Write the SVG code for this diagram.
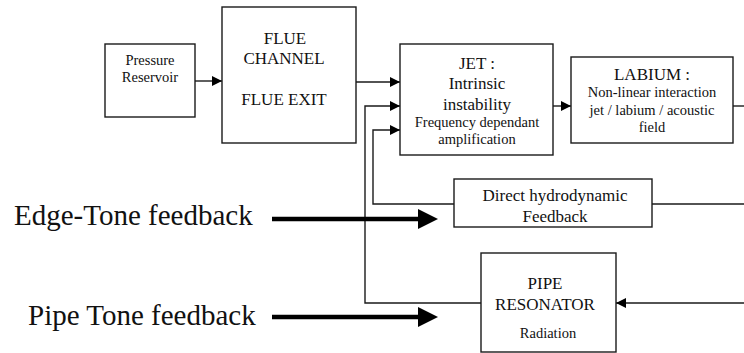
<svg xmlns="http://www.w3.org/2000/svg" width="744" height="353" viewBox="0 0 744 353">
  <style>
    .box { fill: #ffffff; stroke: #1a1a1a; stroke-width: 1.4; }
    .wire { fill: none; stroke: #1a1a1a; stroke-width: 1.4; }
    .big { stroke: #000; stroke-width: 4.5; fill: none; }
    text { font-family: "Liberation Serif", "Times New Roman", serif; fill: #111; text-anchor: middle; }
    .t17 { font-size: 17px; }
    .t14 { font-size: 14.5px; }
    .lbl { font-size: 29px; text-anchor: start; }
  </style>
  <defs>
    <marker id="ah" markerWidth="10" markerHeight="10" refX="10" refY="5" orient="auto" markerUnits="userSpaceOnUse">
      <path d="M0,0 L10,5 L0,10 Z" fill="#000"/>
    </marker>
  </defs>

  <rect width="744" height="353" fill="#ffffff"/>

  <g id="connectors">
    <line class="wire" x1="195" y1="81" x2="222" y2="81" marker-end="url(#ah)"/>
    <line class="wire" x1="356" y1="82" x2="400" y2="82" marker-end="url(#ah)"/>
    <polyline class="wire" points="481,303 365,303 365,106 400,106" marker-end="url(#ah)"/>
    <polyline class="wire" points="454,204 373,204 373,130 400,130" marker-end="url(#ah)"/>
    <line class="wire" x1="553" y1="106" x2="571" y2="106" marker-end="url(#ah)"/>
    <line class="wire" x1="733" y1="106" x2="744" y2="106"/>
    <line class="wire" x1="652" y1="204" x2="744" y2="204"/>
    <line class="wire" x1="744" y1="303" x2="616" y2="303" marker-end="url(#ah)"/>
    <!-- bold feedback arrows -->
    <line class="big" x1="272" y1="219" x2="420" y2="219"/>
    <path d="M418,209 L438,219 L418,229 Z" fill="#000"/>
    <line class="big" x1="272" y1="317" x2="420" y2="317"/>
    <path d="M418,307 L438,317 L418,327 Z" fill="#000"/>
  </g>

  <g id="pressure-reservoir">
    <rect class="box" x="105" y="44" width="90" height="73"/>
    <text class="t14" x="150" y="65">Pressure</text>
    <text class="t14" x="150" y="82">Reservoir</text>
  </g>

  <g id="flue">
    <rect class="box" x="222" y="7" width="134" height="136"/>
    <text class="t17" x="285" y="44">FLUE</text>
    <text class="t17" x="284" y="64">CHANNEL</text>
    <text class="t17" x="284" y="105">FLUE EXIT</text>
  </g>

  <g id="jet">
    <rect class="box" x="400" y="44" width="153" height="111"/>
    <text class="t17" x="477" y="69">JET :</text>
    <text class="t17" x="477" y="89">Intrinsic</text>
    <text class="t17" x="477" y="110">instability</text>
    <text class="t14" x="477" y="127">Frequency dependant</text>
    <text class="t14" x="477" y="144">amplification</text>
  </g>

  <g id="labium">
    <rect class="box" x="571" y="57" width="162" height="86"/>
    <text class="t17" x="652" y="80">LABIUM :</text>
    <text class="t14" x="652" y="97">Non-linear interaction</text>
    <text class="t14" x="652" y="115">jet / labium / acoustic</text>
    <text class="t14" x="652" y="132">field</text>
  </g>

  <g id="direct-feedback">
    <rect class="box" x="454" y="179" width="198" height="48"/>
    <text class="t17" x="555" y="201">Direct hydrodynamic</text>
    <text class="t17" x="555" y="222">Feedback</text>
  </g>

  <g id="pipe-resonator">
    <rect class="box" x="481" y="253" width="135" height="99"/>
    <text class="t17" x="545" y="289">PIPE</text>
    <text class="t17" x="545" y="310">RESONATOR</text>
    <text class="t14" x="548" y="338">Radiation</text>
  </g>

  <g id="labels">
    <text class="lbl" x="14" y="225">Edge-Tone feedback</text>
    <text class="lbl" x="28" y="325">Pipe Tone feedback</text>
  </g>
</svg>
